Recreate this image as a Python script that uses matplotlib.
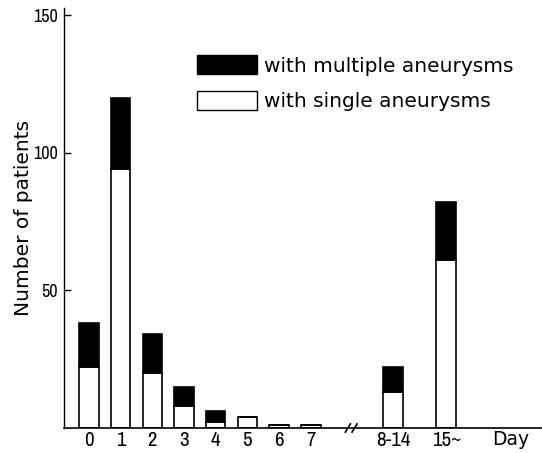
import matplotlib
matplotlib.use("Agg")
import matplotlib.pyplot as plt
from matplotlib.patches import Patch
from matplotlib import font_manager
import numpy as np

categories = ["0", "1", "2", "3", "4", "5", "6", "7", "8-14", "15~"]
single = [22, 94, 20, 8, 2, 4, 1, 1, 13, 61]
multiple = [16, 26, 14, 7, 4, 0, 0, 0, 9, 21]
yticks = [50, 100, 150]

# layout: category positions with a break before the grouped days
x = np.arange(len(categories), dtype=float)
x[8:] += [1.6, 2.27]

# pick a condensed font for the numbers if one is installed
narrow_name = "DejaVu Sans"
for f in font_manager.fontManager.ttflist:
    if "Narrow" in f.name or "Condensed" in f.name:
        narrow_name = f.name
        break
num_font = dict(family=[narrow_name, "DejaVu Sans"])

W, H = 542, 453
fig = plt.figure(figsize=(W / 100, H / 100), dpi=100)
ax = fig.add_axes([63.5 / W, 25 / H, (541 - 63.5) / W, (428 - 8) / H])

ax.bar(x, single, width=0.615, color="white", edgecolor="black", linewidth=1.2)
ax.bar(x, multiple, width=0.615, bottom=single, color="black", edgecolor="black", linewidth=1.2)

ax.set_xlim(-0.8, 14.26)
ax.set_ylim(0, 152.7)

ax.spines["top"].set_visible(False)
ax.spines["right"].set_visible(False)
ax.spines["left"].set_linewidth(1.0)
ax.spines["bottom"].set_linewidth(1.2)

ax.set_yticks(yticks)
ax.set_yticklabels([str(v) for v in yticks], fontsize=13, **num_font)
ax.tick_params(axis="y", direction="in", length=5, width=1, pad=4)
ax.set_xticks(x)
ax.set_xticklabels(categories, fontsize=15, **num_font)
ax.tick_params(axis="x", length=0, pad=2.5)

ax.set_ylabel("Number of patients", fontsize=14.5, family="DejaVu Sans")
ax.yaxis.set_label_coords(-0.064, 0.5)

# axis break marks
for xb in (8.17, 8.38):
    ax.plot([xb - 0.08, xb + 0.08], [-1.5, 1.5], color="black", lw=1.2, clip_on=False)

ax.text(12.72, -4.3, "Day", fontsize=13.5, family="DejaVu Sans", ha="left", va="center")

handles = [Patch(facecolor="black", edgecolor="black", label="with multiple aneurysms"),
           Patch(facecolor="white", edgecolor="black", label="with single aneurysms")]
ax.legend(handles=handles, loc="upper left", bbox_to_anchor=((197 - 63.5) / (541 - 63.5), (428 - 55) / 420),
          frameon=False, prop=dict(family="DejaVu Sans", size=14.5), handlelength=3.0, handleheight=1.1,
          handletextpad=0.35, labelspacing=0.75, borderpad=0, borderaxespad=0)

fig.savefig("out.png", dpi=100)
